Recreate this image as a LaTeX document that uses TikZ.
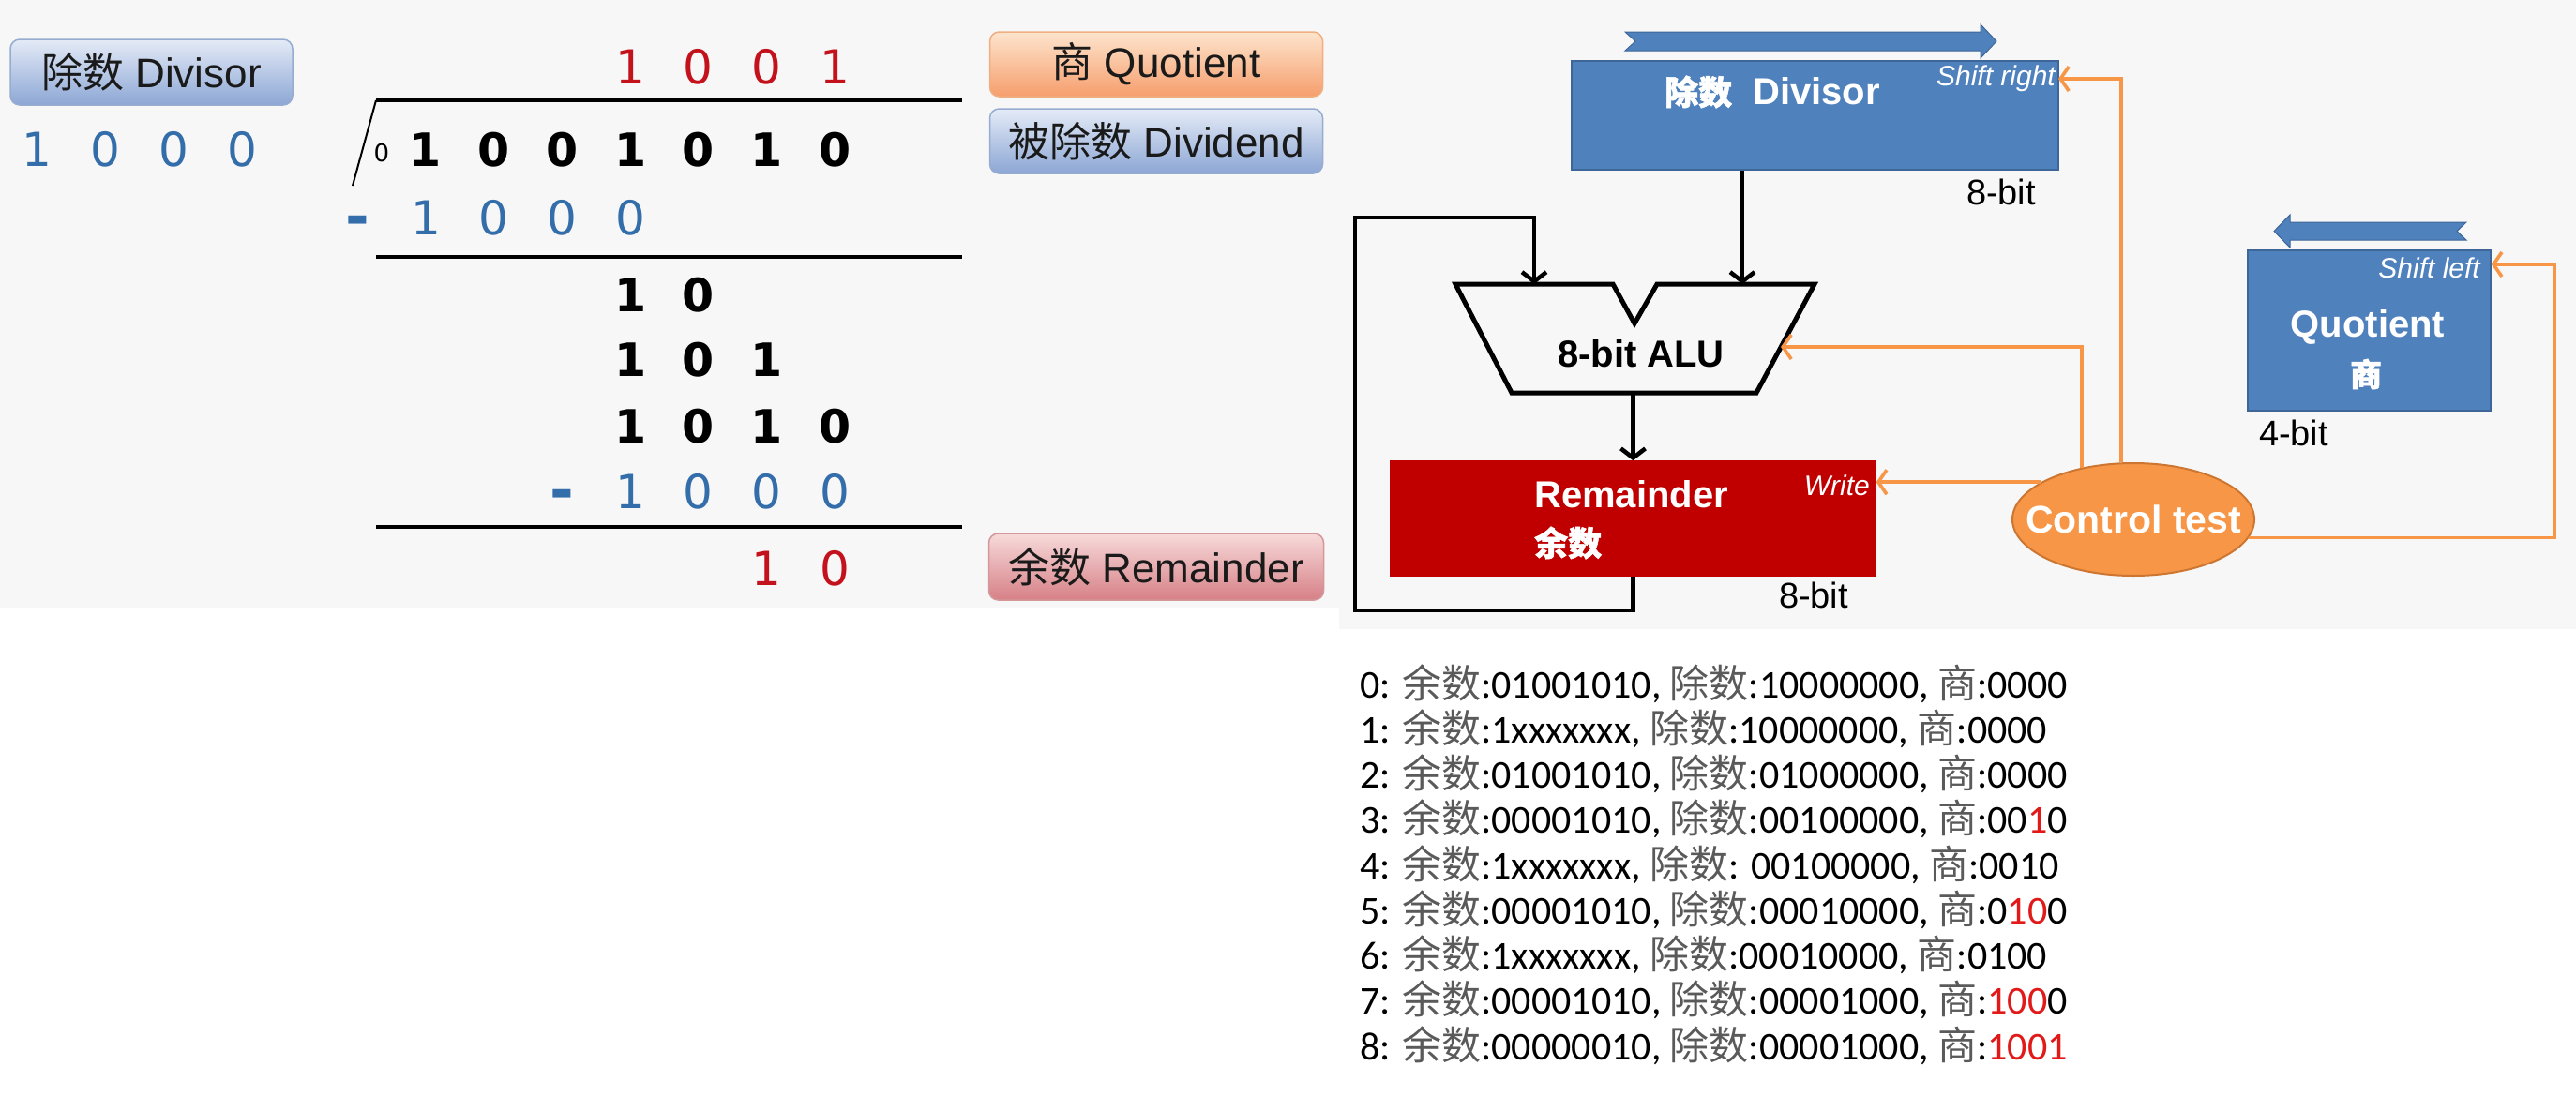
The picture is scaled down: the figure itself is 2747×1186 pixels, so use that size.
\documentclass[tikz,border=0pt]{standalone}
\usepackage{fontspec}
\setmainfont{Liberation Sans}
\newfontfamily\cjk{Noto Sans CJK SC}
\newfontfamily\cjkb[FakeBold=1.5]{Noto Sans CJK SC}
\newfontfamily\digf{DejaVu Sans}
\newfontfamily\listf{Carlito}
\usetikzlibrary{arrows.meta,shapes.geometric}
\definecolor{bgc}{RGB}{247,247,247}
\definecolor{boxblue}{RGB}{79,129,189}
\definecolor{boxblueD}{RGB}{62,102,152}
\definecolor{remred}{RGB}{192,0,0}
\definecolor{orng}{RGB}{247,150,70}
\definecolor{orngD}{RGB}{205,118,50}
\definecolor{dblue}{RGB}{52,110,170}
\definecolor{dred}{RGB}{196,18,28}
\definecolor{lred}{RGB}{225,25,25}
\definecolor{cjkgray}{RGB}{90,90,90}
\definecolor{ltxt}{RGB}{26,26,26}
\newcommand\YuS{{\cjk\color{cjkgray}余数}}
\newcommand\ChuS{{\cjk\color{cjkgray}除数}}
\newcommand\ShangC{{\cjk\color{cjkgray}商}}
\newcommand\rd[1]{\textcolor{lred}{#1}}
\tikzset{
  lab/.style={rounded corners=10pt, line width=1.5pt, inner sep=0, text=ltxt,
    font=\fontsize{44}{50}\selectfont},
  lblue/.style={lab, top color={rgb,255:red,228;green,235;blue,247}, bottom color={rgb,255:red,140;green,166;blue,212}, draw={rgb,255:red,150;green,172;blue,208}},
  lorange/.style={lab, top color={rgb,255:red,253;green,228;blue,205}, bottom color={rgb,255:red,246;green,158;blue,108}, draw={rgb,255:red,240;green,175;blue,130}},
  lredb/.style={lab, top color={rgb,255:red,247;green,218;blue,218}, bottom color={rgb,255:red,214;green,128;blue,134}, draw={rgb,255:red,212;green,152;blue,155}},
  dg/.style={font=\digf\fontsize{50}{50}\selectfont, inner sep=0, anchor=base},
  dgb/.style={font=\digf\bfseries\fontsize{49}{50}\selectfont, inner sep=0, anchor=base, text=black},
  mn/.style={font=\digf\bfseries\fontsize{62}{62}\selectfont, inner sep=0, anchor=base, text=dblue},
  bbox/.style={rectangle, fill=boxblue, draw=boxblueD, line width=1.5pt, inner sep=0},
  rbox/.style={rectangle, fill=remred, draw=remred, line width=1.5pt, inner sep=0},
  wb/.style={text=white, font=\bfseries\fontsize{40}{44}\selectfont, inner sep=0},
  wi/.style={text=white, font=\itshape\fontsize{30}{32}\selectfont, inner sep=0},
  lbl/.style={text=black, font=\fontsize{38}{40}\selectfont, inner sep=0},
  blk/.style={line width=4.5pt, black, -{Straight Barb[length=10pt,width=26pt]}},
  org/.style={line width=3.6pt, orng, -{Straight Barb[length=9pt,width=26pt]}},
  lst/.style={anchor=base west, inner sep=0, font=\listf\fontsize{42}{48}\selectfont},
}
\begin{document}
\begin{tikzpicture}[x=1pt,y=-1pt]
\useasboundingbox (0,0) rectangle (2747,1186);
\fill[white] (0,0) rectangle (2747,1186);
\fill[bgc] (0,0) rectangle (1428,648);
\fill[bgc] (1428,0) rectangle (2747,671);

% ---------- left panel: labels ----------
\node[lblue, minimum width=301, minimum height=70] (lDiv) at (161.5,77) {{\cjk 除数} Divisor};
\node[lorange, minimum width=355, minimum height=69] (lQuo) at (1233,68.5) {{\cjk 商} Quotient};
\node[lblue, minimum width=355, minimum height=69] (lDvd) at (1233,150.5) {{\cjk 被除数} Dividend};
\node[lredb, minimum width=357, minimum height=71] (lRem) at (1233,604.5) {{\cjk 余数} Remainder};

% ---------- long division ----------
\foreach \d [count=\i from 0] in {1,0,0,0}
  \node[dg, text=dblue] (dv\i) at ({39+73.3*\i},177) {\d};
\foreach \d [count=\i from 3] in {1,0,0,1}
  \node[dg, text=dred] (q\i) at ({454+72.7*\i},89) {\d};
\node[font=\digf\fontsize{26}{26}\selectfont, inner sep=0, anchor=base] (z0) at (407,172) {0};
\foreach \d [count=\i from 0] in {1,0,0,1,0,1,0}
  \node[dgb] (n\i) at ({454+72.7*\i},177) {\d};
\node[mn] (m1) at ({454-72.7},252) {-};
\foreach \d [count=\i from 0] in {1,0,0,0}
  \node[dg, text=dblue] (s\i) at ({454+72.7*\i},250) {\d};
\foreach \d [count=\i from 3] in {1,0}
  \node[dgb] (r\i) at ({454+72.7*\i},332) {\d};
\foreach \d [count=\i from 3] in {1,0,1}
  \node[dgb] (t\i) at ({454+72.7*\i},401) {\d};
\foreach \d [count=\i from 3] in {1,0,1,0}
  \node[dgb] (u\i) at ({454+72.7*\i},472) {\d};
\node[mn] (m2) at ({454+72.7*2},544) {-};
\foreach \d [count=\i from 3] in {1,0,0,0}
  \node[dg, text=dblue] (v\i) at ({454+72.7*\i},542) {\d};
\foreach \d [count=\i from 5] in {1,0}
  \node[dg, text=dred] (w\i) at ({454+72.7*\i},624) {\d};
\draw[line width=4pt] (401,107) -- (1026,107);
\draw[line width=2pt] (401,107) -- (376,198);
\draw[line width=4pt] (401,274) -- (1026,274);
\draw[line width=4pt] (401,562) -- (1026,562);

% ---------- right panel: divider hardware ----------
\filldraw[fill=boxblue, draw=boxblueD, line width=1pt] (1733,34) -- (2112,34) -- (2112,26) -- (2129,44) -- (2112,62) -- (2112,54) -- (1733,54) -- (1744,44) -- cycle;
\node[bbox, minimum width=519, minimum height=116] (dv) at (1935.5,123) {};
\node[wb, anchor=west] (dvt) at (1775,98) {{\cjkb\fontsize{36}{36}\selectfont 除数}\hspace{22pt}Divisor};
\node[wi, anchor=east] (dvs) at (2192,84) {Shift right};
\node[lbl] (dvb) at (2134,205) {8-bit};

\draw[line width=5pt, line join=miter] (1552,303) -- (1720,303) -- (1743,345) -- (1767,303) -- (1935,303) -- (1873,419) -- (1612,419) -- cycle;
\node[font=\bfseries\fontsize{40}{44}\selectfont, inner sep=0] (alut) at (1750,377) {8-bit ALU};
\coordinate (aluA) at (1636,303);
\coordinate (aluB) at (1858,303);
\coordinate (aluC) at (1899,370);
\coordinate (aluO) at (1741.5,419);

\node[rbox, minimum width=517, minimum height=122] (rem) at (1741.5,553) {};
\node[wb, anchor=west] (remt) at (1636,527) {Remainder};
\node[wb, anchor=west] (remc) at (1636,579) {\cjkb\fontsize{36}{36}\selectfont 余数};
\node[wi, anchor=east] (remw) at (1994,518) {Write};
\node[lbl] (remb) at (1934,635) {8-bit};

\filldraw[fill=boxblue, draw=boxblueD, line width=1pt] (2425,246.5) -- (2442,229) -- (2442,237) -- (2630,237) -- (2620,246.5) -- (2630,256) -- (2442,256) -- (2442,264) -- cycle;
\node[bbox, minimum width=259, minimum height=171] (qb) at (2526.5,352.5) {};
\node[wb] (qbt) at (2525,349) {Quotient};
\node[wb] (qbc) at (2523,399) {\cjkb\fontsize{34}{34}\selectfont 商};
\node[wi, anchor=east] (qbs) at (2645,286) {Shift left};
\node[lbl] (qbb) at (2446,462) {4-bit};

\node[ellipse, fill=orng, draw=orngD, line width=2pt, minimum width=258, minimum height=120, inner sep=0] (ct) at (2275,554) {};
\node[wb, font=\bfseries\fontsize{41}{44}\selectfont] (ctt) at (2275,554) {Control test};

% black data paths
\draw[blk] (dv.south -| aluB) -- (aluB);
\draw[blk] (aluO) -- (rem.north);
\coordinate (fbBL) at (1445,651);
\coordinate (fbTR) at (1636,232);
\draw[blk] (rem.south) |- (fbBL) |- (fbTR) -- (aluA);

% orange control paths
\coordinate (dvIn) at (2195,84);
\coordinate (qCor) at (2724,282);
\draw[org] (ct.102) |- (dvIn);
\draw[org] (ct.135) |- (aluC);
\draw[org] (ct.158) -- (ct.158 -| rem.east);
\draw[org] (ct.-9) -| (qCor) -- (qCor -| qb.east);

% ---------- step list ----------
\node[lst] (l0) at (1450,744) {0: \YuS:01001010, \ChuS:10000000, \ShangC:0000};
\node[lst] (l1) at (1450,792.25) {1: \YuS:1xxxxxxx, \ChuS:10000000, \ShangC:0000};
\node[lst] (l2) at (1450,840.5) {2: \YuS:01001010, \ChuS:01000000, \ShangC:0000};
\node[lst] (l3) at (1450,888.75) {3: \YuS:00001010, \ChuS:00100000, \ShangC:00\rd{1}0};
\node[lst] (l4) at (1450,937) {4: \YuS:1xxxxxxx, \ChuS: 00100000, \ShangC:0010};
\node[lst] (l5) at (1450,985.25) {5: \YuS:00001010, \ChuS:00010000, \ShangC:0\rd{10}0};
\node[lst] (l6) at (1450,1033.5) {6: \YuS:1xxxxxxx, \ChuS:00010000, \ShangC:0100};
\node[lst] (l7) at (1450,1081.75) {7: \YuS:00001010, \ChuS:00001000, \ShangC:\rd{100}0};
\node[lst] (l8) at (1450,1130) {8: \YuS:00000010, \ChuS:00001000, \ShangC:\rd{1001}};
\end{tikzpicture}
\end{document}
